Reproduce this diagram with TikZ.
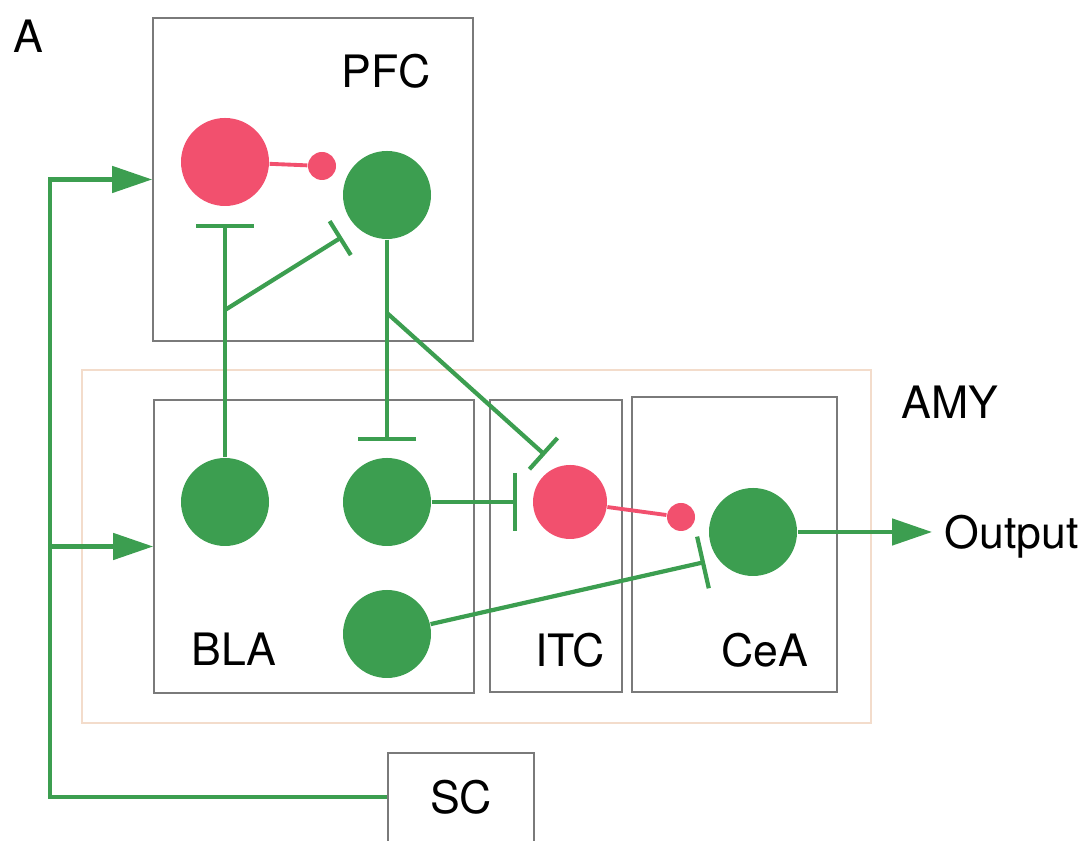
\documentclass[tikz,border=0pt]{standalone}
\usepackage{fontspec}
\setmainfont{TeX Gyre Heros}
\usetikzlibrary{arrows.meta,positioning}
\definecolor{Green}{HTML}{3C9E50}
\definecolor{Red}{HTML}{F2506E}
\definecolor{Frame}{HTML}{7A7A7A}
\definecolor{Peach}{HTML}{F3DCCB}

\begin{document}
\begin{tikzpicture}[font=\fontsize{12.7}{15}\selectfont,>={Triangle[length=4mm,width=2.6mm]},
    region/.style={draw=Frame,line width=.45pt,inner sep=0pt},
    cell/.style={circle,inner sep=0pt,minimum size=8.8mm},
    exc/.style={draw=Green,line width=1.3pt,->},
    inh/.style={draw=Green,line width=1.2pt,-{Bar[width=5.8mm]}},
    gaba/.style={draw=Red,line width=1.1pt}]
  \useasboundingbox (0,0) rectangle (10.89,8.41);
  % areas
  \node[draw=Peach,line width=.6pt,inner sep=0pt,minimum width=7.89cm,minimum height=3.53cm] (amy) at (4.765,2.945) {};
  \node[region,minimum width=3.20cm,minimum height=3.23cm] (pfc) at (3.13,6.615) {};
  \node[region,minimum width=3.20cm,minimum height=2.93cm] (bla) at (3.14,2.945) {};
  \node[region,minimum width=1.32cm,minimum height=2.92cm] (itc) at (5.56,2.95) {};
  \node[region,minimum width=2.05cm,minimum height=2.95cm] (cea) at (7.345,2.965) {};
  \node[region,minimum width=1.46cm,minimum height=1.0cm,text depth=1.2mm] (sc) at (4.61,0.38) {SC};
  \node (lblA) at (0.28,8.05) {A};
  \node (lblPFC) at (3.86,7.70) {PFC};
  \node (lblAMY) at (9.50,4.39) {AMY};
  \node (lblBLA) at (2.34,1.92) {BLA};
  \node (lblITC) at (5.70,1.91) {ITC};
  \node (lblCeA) at (7.65,1.91) {CeA};
  % cells
  \node[cell,fill=Red] (pfcR) at (2.25,6.79) {};
  \node[cell,fill=Red,minimum size=2.8mm] (pfcDot) at (3.22,6.75) {};
  \node[cell,fill=Green] (pfcG) at (3.87,6.46) {};
  \node[cell,fill=Green] (bla1) at (2.25,3.39) {};
  \node[cell,fill=Green] (bla2) at (3.87,3.39) {};
  \node[cell,fill=Green] (bla3) at (3.87,2.07) {};
  \node[cell,fill=Red,minimum size=7.4mm] (itcR) at (5.70,3.39) {};
  \node[cell,fill=Red,minimum size=2.8mm] (ceaDot) at (6.81,3.24) {};
  \node[cell,fill=Green] (ceaG) at (7.53,3.09) {};
  \node[text depth=0pt] (out) at (10.115,3.09) {Output};
  % free ends and branch points
  \coordinate (jBla) at (2.25,5.31);
  \coordinate (jPfc) at (3.87,5.28);
  \coordinate (tPfcG) at (3.42,6.04);
  \coordinate (tItc) at (5.45,3.86);
  \coordinate (tCeA) at (7.05,2.79);
  \coordinate (fbL) at (0.50,0.44);
  % connections
  \draw[gaba] (pfcR) -- (pfcDot);
  \draw[gaba] (itcR) -- (ceaDot);
  \draw[inh,shorten >=1.7mm] (bla1) -- (pfcR);
  \draw[inh,-{Bar[width=4mm]}] (jBla) -- (tPfcG);
  \draw[inh,shorten >=1.6mm] (pfcG) -- (bla2);
  \draw[inh,-{Bar[width=4.2mm]}] (jPfc) -- (tItc);
  \draw[inh,shorten >=1.5mm] (bla2) -- (itcR);
  \draw[inh,-{Bar[width=5.3mm]}] (bla3) -- (tCeA);
  \draw[exc] (ceaG) -- (out);
  \draw[exc] (fbL -| sc.west) -- (fbL) |- (pfc.west);
  \draw[exc] (fbL |- bla.west) -- (bla.west);
\end{tikzpicture}
\end{document}
